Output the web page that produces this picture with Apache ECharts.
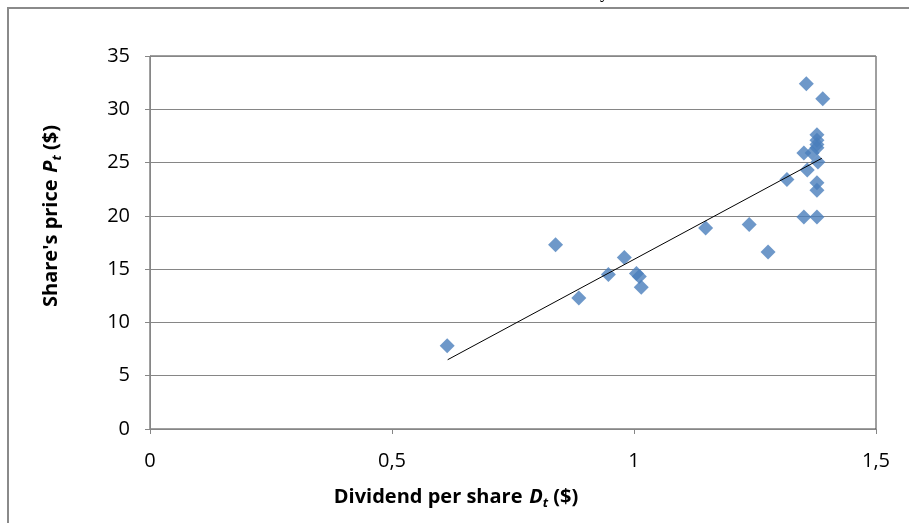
<!DOCTYPE html>
<html>
<head>
<meta charset="utf-8">
<script src="https://cdn.jsdelivr.net/npm/echarts@6/dist/echarts.min.js"></script>
<style>
html,body{margin:0;padding:0;background:#fff;}
#c{width:909px;height:523px;}
</style>
</head>
<body>
<div id="c"></div>
<script>
// Data
const dividend = [0.614, 0.838, 0.886, 0.947, 0.980, 1.005, 1.011, 1.015, 1.148, 1.238, 1.277, 1.316,
  1.356, 1.390, 1.351, 1.378, 1.378, 1.378, 1.358, 1.351, 1.368, 1.380, 1.378, 1.378, 1.378, 1.378];
const price = [7.8, 17.3, 12.3, 14.5, 16.1, 14.6, 14.3, 13.3, 18.85, 19.2, 16.6, 23.4,
  32.4, 31.0, 19.9, 19.9, 23.1, 22.4, 24.3, 25.9, 25.9, 25.05, 27.6, 27.1, 26.7, 26.4];
const trendX = [0.615, 1.388];
const trendY = [6.5, 25.4];
const xTicks = [0, 0.5, 1, 1.5];
const yTicks = [0, 5, 10, 15, 20, 25, 30, 35];

const chart = echarts.init(document.getElementById('c'), null, {renderer: 'canvas'});
const FONT = 'Open Sans';
const titleRich = {
  b: {fontFamily: FONT, fontSize: 20, fontWeight: 'bold', color: '#000'},
  i: {fontFamily: FONT, fontSize: 20, fontWeight: 'bold', fontStyle: 'italic', color: '#000'},
  s: {fontFamily: FONT, fontSize: 13, fontWeight: 'bold', fontStyle: 'italic', color: '#000', padding: [12, 0, 0, 0]}
};
chart.setOption({
  backgroundColor: '#fff',
  animation: false,
  grid: {left: 150, right: 33, top: 56, bottom: 94, show: true, borderColor: '#404040', borderWidth: 1},
  xAxis: {
    type: 'value', min: xTicks[0], max: xTicks[xTicks.length - 1], interval: 0.5,
    axisLine: {show: true, onZero: false, lineStyle: {color: '#868686', width: 1}},
    axisTick: {show: true, inside: false, length: 5, lineStyle: {color: '#868686'}},
    splitLine: {show: false},
    axisLabel: {margin: 22, color: '#000', fontFamily: FONT, fontSize: 20,
      formatter: v => String(v).replace('.', ',')}
  },
  yAxis: {
    type: 'value', min: yTicks[0], max: yTicks[yTicks.length - 1], interval: 5,
    axisLine: {show: true, onZero: false, lineStyle: {color: '#868686', width: 1}},
    axisTick: {show: true, inside: false, length: 5, lineStyle: {color: '#868686'}},
    splitLine: {show: true, lineStyle: {color: '#868686', width: 1}},
    axisLabel: {margin: 20, color: '#000', fontFamily: FONT, fontSize: 20}
  },
  series: [
    {
      type: 'scatter', symbol: 'diamond', symbolSize: 15,
      itemStyle: {color: '#4A7EBB'},
      data: dividend.map((d, i) => [d, price[i]]),
      z: 3
    },
    {
      type: 'line', showSymbol: false, symbol: 'none',
      lineStyle: {color: '#000', width: 1},
      data: trendX.map((d, i) => [d, trendY[i]]),
      z: 4
    }
  ],
  graphic: [
    {type: 'rect', silent: true, z: 100, shape: {x: 8, y: 8, width: 1000, height: 600},
      style: {fill: 'none', stroke: '#8a8a8a', lineWidth: 2}},
    {type: 'text', x: 600, y: -16, z: 100,
      style: {text: 'y', font: '18px "Liberation Serif"', fill: '#000'}},
    {type: 'text', x: 456, y: 497, z: 100,
      style: {
        text: '{b|Dividend per share}  {i|D}{s|t}{b| ($)}',
        align: 'center', verticalAlign: 'middle', rich: titleRich
      }},
    {type: 'text', x: 51, y: 216, rotation: Math.PI / 2, z: 100,
      style: {
        text: "{b|Share's price}  {i|P}{s|t}{b| ($)}",
        align: 'center', verticalAlign: 'middle', rich: titleRich
      }}
  ]
});
</script>
</body>
</html>
